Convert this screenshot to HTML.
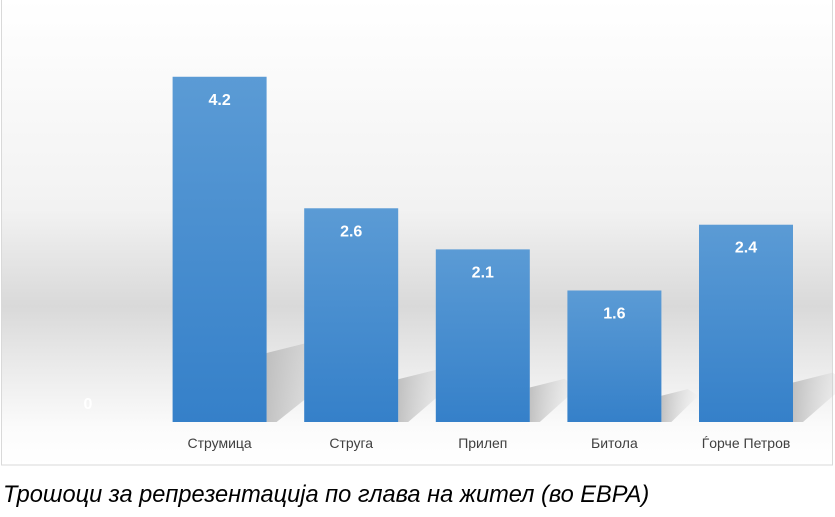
<!DOCTYPE html>
<html><head><meta charset="utf-8"><style>
body{margin:0;width:835px;height:517px;background:#fff;overflow:hidden;font-family:"Liberation Sans","DejaVu Sans",sans-serif}
#caption{position:absolute;left:3px;top:482px;font-size:23.6px;font-style:italic;color:#000;font-family:"Liberation Sans",sans-serif;white-space:nowrap}
</style></head><body>
<svg id="chart" width="835" height="475" style="position:absolute;left:0;top:0">
<defs>
<linearGradient id="bg" x1="0" y1="0" x2="0" y2="1">
<stop offset="0" stop-color="#ffffff"/><stop offset="0.45" stop-color="#f2f2f2"/><stop offset="0.66" stop-color="#d9d9d9"/><stop offset="0.8" stop-color="#ececec"/><stop offset="0.92" stop-color="#fbfbfb"/><stop offset="1" stop-color="#ffffff"/>
</linearGradient>
<linearGradient id="barg" x1="0" y1="0" x2="0" y2="1">
<stop offset="0" stop-color="#5b9bd5"/><stop offset="1" stop-color="#3580c9"/>
</linearGradient>
<linearGradient id="shg" x1="0" y1="0" x2="1" y2="0">
<stop offset="0" stop-color="#b8b8b8" stop-opacity="0.85"/><stop offset="1" stop-color="#d0d0d0" stop-opacity="0"/>
</linearGradient>
</defs>
<rect x="1.5" y="-1" width="831" height="466" fill="url(#bg)" stroke="#d9d9d9"/>
<g id="marks"></g>
</svg>
<div id="caption">Трошоци за репрезентација по глава на жител (во ЕВРА)</div>
<script>
const categories=["","Струмица","Струга","Прилеп","Битола","Ѓорче Петров"];
const values=[0,4.2,2.6,2.1,1.6,2.4];
const valueLabels=["0","4.2","2.6","2.1","1.6","2.4"];
const NS="http://www.w3.org/2000/svg";
const g=document.getElementById("marks");
const baseY=422, scale=82.2, x0=88, step=131.6, bw=94;
function xC(i){return x0+i*step;}
function yV(v){return baseY-v*scale;}
function mk(t,a){const e=document.createElementNS(NS,t);for(const k in a)e.setAttribute(k,a[k]);g.appendChild(e);return e;}
values.forEach((v,i)=>{
  if(v<=0) return;
  const l=xC(i)-bw/2, r=l+bw, h=baseY-yV(v);
  const sh=mk("polygon",{points:`${r},${baseY} ${r},${baseY-h*0.2} ${r+h*0.2},${baseY-h*0.25} ${r+h*0.28},${baseY-h*0.2} ${r+10},${baseY}`,fill:"url(#shg)"});
  
  
});
values.forEach((v,i)=>{
  const cx=xC(i);
  if(v>0){
    const b=mk("rect",{x:cx-bw/2,y:yV(v),width:bw,height:baseY-yV(v),fill:"url(#barg)"});
    
    
  }
  const t=mk("text",{x:cx,y:v>0?yV(v)+28:baseY-13,"text-anchor":"middle","font-size":"16","font-weight":"bold",fill:"#fff"});
  t.textContent=valueLabels[i];
  
  
  if(categories[i]){
    const c=mk("text",{x:cx,y:448,"text-anchor":"middle","font-size":"14",fill:"#404040"});
    c.textContent=categories[i];
    
    
  }
});
</script>
</body></html>
